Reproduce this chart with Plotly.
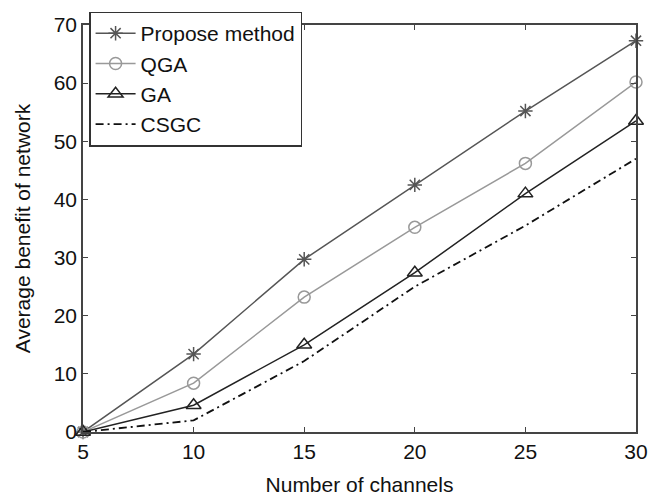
import plotly.graph_objects as go

channels = [5, 10, 15, 20, 25, 30]
propose = [0, 13.4, 29.7, 42.5, 55.2, 67.3]
qga = [0, 8.4, 23.2, 35.2, 46.2, 60.2]
ga = [0, 4.6, 15.0, 27.4, 41.0, 53.5]
csgc = [0, 2.0, 12.2, 25.0, 35.5, 47.0]

font = "Liberation Sans, Arial, sans-serif"

fig = go.Figure()
fig.add_trace(go.Scatter(x=channels, y=propose, name="Propose method", mode="lines+markers",
                         line=dict(color="#555555", width=1.5),
                         marker=dict(symbol="asterisk-open", size=12, color="#555555",
                                     line=dict(color="#555555", width=1.5)),
                         cliponaxis=False))
fig.add_trace(go.Scatter(x=channels, y=qga, name="QGA", mode="lines+markers",
                         line=dict(color="#999999", width=1.5),
                         marker=dict(symbol="circle-open", size=12, color="#999999",
                                     line=dict(color="#999999", width=1.5)),
                         cliponaxis=False))
fig.add_trace(go.Scatter(x=channels, y=ga, name="GA", mode="lines+markers",
                         line=dict(color="#222222", width=1.5),
                         marker=dict(symbol="triangle-up-open", size=13, color="#222222",
                                     line=dict(color="#222222", width=1.5)),
                         cliponaxis=False))
fig.add_trace(go.Scatter(x=channels, y=csgc, name="CSGC", mode="lines",
                         line=dict(color="#111111", width=1.8, dash="8px,4px,2px,4px"),
                         cliponaxis=False))

axis_common = dict(showgrid=False, zeroline=False, showline=True, linecolor="#444444",
                   linewidth=1.5, mirror="ticks", ticks="inside", ticklen=5,
                   tickcolor="#444444", tickwidth=1, automargin=False,
                   tickfont=dict(family=font, size=21, color="#111111"))

fig.update_layout(
    width=663, height=496,
    margin=dict(l=83, r=27, t=15, b=64),
    paper_bgcolor="white", plot_bgcolor="white",
    font=dict(family=font, color="#111111"),
    xaxis=dict(range=[5, 30], tickvals=[5, 10, 15, 20, 25, 30],
               title=dict(text="Number of channels", font=dict(family=font, size=21), standoff=15),
               **axis_common),
    yaxis=dict(range=[0, 70], tickvals=[0, 10, 20, 30, 40, 50, 60, 70],
               title=dict(text="Average benefit of network", font=dict(family=font, size=21), standoff=17),
               **axis_common),
    legend=dict(x=0.011, y=1.033, xanchor="left", yanchor="top",
                bgcolor="white", bordercolor="#333333", borderwidth=1.5,
                font=dict(family=font, size=21, color="#111111"),
                tracegroupgap=0, itemwidth=40),
    showlegend=True,
)

fig.write_html("out.html")
